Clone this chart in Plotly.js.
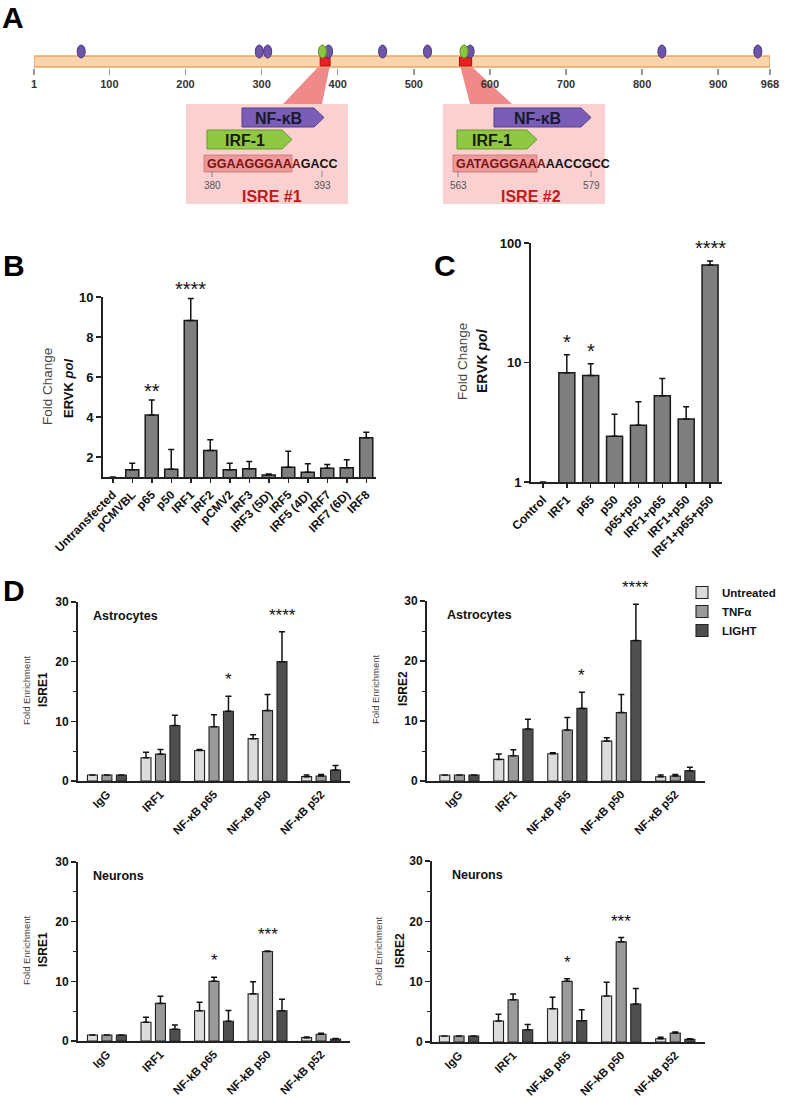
<!DOCTYPE html>
<html><head><meta charset="utf-8">
<script src="https://cdn.plot.ly/plotly-3.0.1.min.js"></script>
<style>html,body{margin:0;padding:0;background:#fff}#chart{width:790px;height:1097px}</style>
</head><body><div id="chart"></div>
<script>
// ================= DATA =================
// Panel A : ERVK genome map
const genomeTicks = [1,100,200,300,400,500,600,700,800,900,968];
const nfkbSites = [63,297,308,388,459,518,574,826,952];
const irf1Sites = [380,566];
const isreRanges = [[380,393],[563,579]];
const primerStart = [250,435,546,738];
const primerEnd = [275,410,572,712];
const isreSeqs = ['GGAAGGGAAAGACC','GATAGGGAAAAACCGCC'];
const isreNames = ['ISRE #1','ISRE #2'];

// Panel B
const bCats = ['Untransfected','pCMVBL','p65','p50','IRF1','IRF2','pCMV2','IRF3','IRF3 (5D)','IRF5','IRF5 (4D)','IRF7','IRF7 (6D)','IRF8'];
const bVals = [1.0,1.36,4.1,1.39,8.83,2.33,1.36,1.41,1.1,1.49,1.24,1.44,1.46,2.96];
const bErr  = [0,0.33,0.75,0.99,1.1,0.53,0.33,0.37,0.05,0.8,0.42,0.19,0.4,0.28];
const bSig  = ['','','**','','****','','','','','','','','',''];

// Panel C
const cCats = ['Control','IRF1','p65','p50','p65+p50','IRF1+p65','IRF1+p50','IRF1+p65+p50'];
const cVals = [1.0,8.2,7.8,2.42,2.98,5.28,3.37,65.6];
const cErr  = [0,3.4,1.95,1.27,1.72,2.08,0.9,5.2];
const cSig  = ['','*','*','','','','','****'];

// Panel D
const treatments = ['Untreated','TNFα','LIGHT'];
const dCatsAstro  = ['IgG','IRF1','NF-κB p65','NF-κB p50','NF-κB p52'];
const dCatsNeuron = ['IgG','IRF1','NF-kB p65','NF-kB p50','NF-kB p52'];

const astroIsre1Untreated = [1.0,3.9,5.1,7.1,0.73];
const astroIsre1UntreatedErr = [0,0.9,0.2,0.65,0.27];
const astroIsre1Tnf = [1.0,4.5,9.1,11.8,0.84];
const astroIsre1TnfErr = [0,0.8,2.0,2.7,0.23];
const astroIsre1Light = [1.0,9.3,11.7,20.0,1.85];
const astroIsre1LightErr = [0,1.7,2.5,5.0,0.75];

const astroIsre2Untreated = [1.0,3.6,4.55,6.65,0.72];
const astroIsre2UntreatedErr = [0,0.9,0.15,0.55,0.28];
const astroIsre2Tnf = [1.0,4.2,8.5,11.4,0.83];
const astroIsre2TnfErr = [0,1.0,2.1,3.0,0.27];
const astroIsre2Light = [1.0,8.65,12.1,23.4,1.72];
const astroIsre2LightErr = [0,1.65,2.7,6.05,0.58];

const neuronIsre1Untreated = [1.0,3.13,5.08,7.9,0.56];
const neuronIsre1UntreatedErr = [0,0.87,1.42,2.05,0.11];
const neuronIsre1Tnf = [1.0,6.3,10.0,15.0,1.12];
const neuronIsre1TnfErr = [0,1.2,0.7,0.1,0.16];
const neuronIsre1Light = [1.0,1.95,3.3,5.08,0.33];
const neuronIsre1LightErr = [0,0.75,1.8,1.92,0.07];

const neuronIsre2Untreated = [1.0,3.48,5.5,7.62,0.55];
const neuronIsre2UntreatedErr = [0,1.12,1.9,2.28,0.22];
const neuronIsre2Tnf = [1.0,7.0,10.05,16.6,1.5];
const neuronIsre2TnfErr = [0,0.95,0.45,0.7,0.16];
const neuronIsre2Light = [1.0,2.04,3.54,6.3,0.44];
const neuronIsre2LightErr = [0,0.86,1.82,2.55,0.11];

// significance: [group index, treatment index, label]
const astroSig = [[2,2,'*'],[3,2,'****']];
const neuronSig = [[2,1,'*'],[3,1,'***']];

// ================= HELPERS =================
const W=790,H=1097;
const F='Liberation Sans, Arial, sans-serif';
const X=p=>p/W, Y=p=>1-p/H;
const xd=(a,b)=>[a/W,b/W], yd=(t,b)=>[1-b/H,1-t/H];
const bf=(s,c)=>({family:F,size:s,color:c||'#111',weight:'bold'});
const baseAx = {showline:true,linecolor:'#222',linewidth:2,ticks:'outside',tickcolor:'#222',
  tickwidth:1.5,ticklen:5,showgrid:false,zeroline:false,fixedrange:true};
const upErr = e=>({type:'data',symmetric:false,array:e.map(v=>v>0?v:NaN),arrayminus:e.map(()=>0),color:'#111',thickness:1.5,width:3});

const traces=[], shapes=[], annotations=[];
function pa(x,y,text,font,extra){annotations.push(Object.assign({xref:'paper',yref:'paper',x:X(x),y:Y(y),text:text,showarrow:false,font:font,xanchor:'center',yanchor:'middle'},extra||{}));}

// ================= PANEL A =================
traces.push({type:'scatter',x:[1,968],y:[0,0],mode:'none',xaxis:'x7',yaxis:'y7',showlegend:false,hoverinfo:'skip'});
shapes.push({type:'rect',xref:'x7',yref:'y7',x0:genomeTicks[0],x1:genomeTicks[genomeTicks.length-1],y0:1,y1:12,fillcolor:'#fcd4ab',line:{color:'#eea263',width:1.5}});
isreRanges.forEach(r=>shapes.push({type:'rect',xref:'x7',yref:'y7',x0:r[0]-3,x1:r[1]-3,y0:2,y1:11,fillcolor:'#e8201e',line:{color:'#b01010',width:1}}));
nfkbSites.forEach(s=>shapes.push({type:'circle',xref:'x7',yref:'y7',x0:s-5.3,x1:s+5.3,y0:10,y1:23,fillcolor:'#6d55a8',line:{color:'#4a3680',width:1}}));
irf1Sites.forEach(s=>shapes.push({type:'circle',xref:'x7',yref:'y7',x0:s-5.3,x1:s+5.3,y0:10,y1:23,fillcolor:'#8cc63e',line:{color:'#5f8f25',width:1}}));
primerStart.forEach((s,i)=>annotations.push({xref:'x7',yref:'y7',axref:'x7',ayref:'y7',x:primerEnd[i],y:-2.5,ax:s,ay:-2.5,text:'',showarrow:true,arrowhead:2,arrowsize:0.7,arrowwidth:3.5,arrowcolor:i<2?'#6a6a6a':'#111'}));

const insetLayout=[
 {box:[186,104,348,204],wedge:[[320,65],[330,65],[322,104],[283,104]],nf:[242,324,108,127],irf:[207,292,130,149],hl:[204,292,155,172],seqX:205,ticks:[212,322],name:[272,197]},
 {box:[443,104,605,204],wedge:[[460,65],[470,65],[512,104],[470,104]],nf:[494,591,108,127],irf:[457,537,130,149],hl:[453,537,155,172],seqX:454,ticks:[458,591],name:[531,197]}
];
function pent(b,tip){const [x0,x1,y0,y1]=b;return `M${X(x0)},${Y(y0)} L${X(x1-tip)},${Y(y0)} L${X(x1)},${Y((y0+y1)/2)} L${X(x1-tip)},${Y(y1)} L${X(x0)},${Y(y1)} Z`;}
insetLayout.forEach((L,i)=>{
  shapes.push({type:'rect',xref:'paper',yref:'paper',x0:X(L.box[0]),x1:X(L.box[2]),y0:Y(L.box[3]),y1:Y(L.box[1]),fillcolor:'#fbd0d0',line:{width:0},layer:'below'});
  shapes.push({type:'path',xref:'paper',yref:'paper',path:'M'+L.wedge.map(p=>X(p[0])+','+Y(p[1])).join(' L')+' Z',fillcolor:'rgba(228,40,40,0.55)',line:{width:0},layer:'below'});
  shapes.push({type:'path',xref:'paper',yref:'paper',path:pent(L.nf,10),fillcolor:'#7a5db6',line:{color:'#55408f',width:1}});
  shapes.push({type:'path',xref:'paper',yref:'paper',path:pent(L.irf,10),fillcolor:'#8fc843',line:{color:'#679a2a',width:1}});
  shapes.push({type:'rect',xref:'paper',yref:'paper',x0:X(L.hl[0]),x1:X(L.hl[1]),y0:Y(L.hl[3]),y1:Y(L.hl[2]),fillcolor:'rgba(226,110,110,0.55)',line:{color:'rgba(200,90,90,0.6)',width:1}});
  L.ticks.forEach(t=>shapes.push({type:'line',xref:'paper',yref:'paper',x0:X(t),x1:X(t),y0:Y(171),y1:Y(177),line:{color:'#888',width:1}}));
  pa((L.nf[0]+L.nf[1]-10)/2,118,'NF-κB',bf(16,'#1b1a2a'));
  pa((L.irf[0]+L.irf[1]-10)/2,140,'IRF-1',bf(16,'#1b1a10'));
  const seq=isreSeqs[i];
  pa(L.seqX,164,'<span style="color:#7a1010">'+seq.slice(0,10)+'</span>'+seq.slice(10),bf(12.5,'#111'),{xanchor:'left'});
  pa(L.ticks[0],185,String(isreRanges[i][0]),{family:F,size:10,color:'#555'});
  pa(L.ticks[1],185,String(isreRanges[i][1]),{family:F,size:10,color:'#555'});
  pa(L.name[0],197,isreNames[i],bf(16,'#c4161c'));
});

// bars whose value sits on the axis minimum (fold change 1) are not visible in the original
const outlineW = (vals,w)=>vals.map(v=>v>1?w:0);
const barOpacity = vals=>vals.map(v=>v>1?1:0);

// ================= PANEL B =================
traces.push({type:'bar',x:bCats,y:bVals,width:0.67,xaxis:'x',yaxis:'y',showlegend:false,
  marker:{color:'#7f7f7f',opacity:barOpacity(bVals),line:{color:'#1a1a1a',width:outlineW(bVals,1.5)}},error_y:upErr(bErr),hoverinfo:'skip'});
bSig.forEach((s,i)=>{if(s)annotations.push({xref:'x',yref:'y',x:i,y:bVals[i]+bErr[i],text:s,showarrow:false,yanchor:'bottom',yshift:-4,font:{family:F,size:20,color:'#111'}});});

// ================= PANEL C =================
traces.push({type:'bar',x:cCats,y:cVals,width:0.67,xaxis:'x2',yaxis:'y2',showlegend:false,
  marker:{color:'#7f7f7f',opacity:barOpacity(cVals),line:{color:'#1a1a1a',width:outlineW(cVals,1.5)}},error_y:upErr(cErr),hoverinfo:'skip'});
cSig.forEach((s,i)=>{if(s)annotations.push({xref:'x2',yref:'y2',x:i,y:Math.log10(cVals[i]+cErr[i]),text:s,showarrow:false,yanchor:'bottom',yshift:0,font:{family:F,size:20,color:'#111'}});});

// ================= PANEL D =================
const dColors=['#dcdcdc','#9a9a9a','#4f4f4f'];
const dPanels=[
 {ax:'3',cats:dCatsAstro,vals:[astroIsre1Untreated,astroIsre1Tnf,astroIsre1Light],errs:[astroIsre1UntreatedErr,astroIsre1TnfErr,astroIsre1LightErr],sig:astroSig,label:'Astrocytes'},
 {ax:'4',cats:dCatsAstro,vals:[astroIsre2Untreated,astroIsre2Tnf,astroIsre2Light],errs:[astroIsre2UntreatedErr,astroIsre2TnfErr,astroIsre2LightErr],sig:astroSig,label:'Astrocytes'},
 {ax:'5',cats:dCatsNeuron,vals:[neuronIsre1Untreated,neuronIsre1Tnf,neuronIsre1Light],errs:[neuronIsre1UntreatedErr,neuronIsre1TnfErr,neuronIsre1LightErr],sig:neuronSig,label:'Neurons'},
 {ax:'6',cats:dCatsNeuron,vals:[neuronIsre2Untreated,neuronIsre2Tnf,neuronIsre2Light],errs:[neuronIsre2UntreatedErr,neuronIsre2TnfErr,neuronIsre2LightErr],sig:neuronSig,label:'Neurons'}
];
const BARGAP=0.19, slot=(1-BARGAP)/3;
dPanels.forEach((p,pi)=>{
  treatments.forEach((t,ti)=>{
    traces.push({type:'bar',name:t,x:p.cats,y:p.vals[ti],xaxis:'x'+p.ax,yaxis:'y'+p.ax,legendgroup:t,showlegend:pi===1,
      marker:{color:dColors[ti],line:{color:'#222',width:1.1}},error_y:upErr(p.errs[ti]),hoverinfo:'skip'});
  });
  p.sig.forEach(s=>{const [g,t,txt]=s;
    annotations.push({xref:'x'+p.ax,yref:'y'+p.ax,x:g+(t-1)*slot,y:p.vals[t][g]+p.errs[t][g],text:txt,showarrow:false,yanchor:'bottom',yshift:5,font:{family:F,size:17,color:'#111'}});});
  annotations.push({xref:'x'+p.ax+' domain',yref:'y'+p.ax,x:pi%2?0.065:0.048,y:27.6,text:p.label,showarrow:false,xanchor:'left',yanchor:'middle',font:bf(12.5,'#111')});
});

// ================= AXIS TITLES & LETTERS =================
const rot={textangle:-90};
pa(47,387,'Fold Change',{family:F,size:13.5,color:'#444'},rot);
pa(68,389,'ERVK <i>pol</i>',bf(13,'#111'),rot);
pa(462,362,'Fold Change',{family:F,size:13.5,color:'#444'},rot);
pa(482,361,'ERVK <i>pol</i>',bf(14,'#111'),rot);
[[26,43,690,'ISRE1'],[375,403,689,'ISRE2'],[26,43,950,'ISRE1'],[378,400,951,'ISRE2']].forEach(a=>{
  pa(a[0],a[2],'Fold Enrichment',{family:F,size:9.5,color:'#444'},rot);
  pa(a[1],a[2],a[3],bf(12,'#111'),rot);
});
pa(13,17,'A',bf(30,'#000'));
pa(14,265,'B',bf(30,'#000'));
pa(445,265,'C',bf(30,'#000'));
pa(14,590,'D',bf(30,'#000'));

// ================= LAYOUT =================
const dY = Object.assign({},baseAx,{range:[0,30],tickvals:[0,10,20,30],tickfont:bf(12),minor:{tickvals:[5,15,25],ticks:'outside',ticklen:3,tickcolor:'#222',tickwidth:1}});
const dX = Object.assign({},baseAx,{type:'category',ticks:'',tickangle:-45,tickfont:bf(11.5)});
const layout={
  width:W,height:H,margin:{l:0,r:0,t:0,b:0},paper_bgcolor:'#fff',plot_bgcolor:'rgba(0,0,0,0)',
  font:{family:F,color:'#111'},barmode:'group',bargap:BARGAP,bargroupgap:0.31,
  showlegend:true,
  legend:{x:X(682),y:Y(578),xanchor:'left',yanchor:'top',font:bf(11.5),bgcolor:'rgba(0,0,0,0)',itemwidth:30,tracegroupgap:0},
  xaxis:Object.assign({},baseAx,{domain:xd(103,376),anchor:'y',type:'category',range:[-0.5,13.5],tickangle:-45,ticklen:4,tickfont:bf(12)}),
  yaxis:Object.assign({},baseAx,{domain:yd(297,477),anchor:'x',range:[1,10],tickvals:[2,4,6,8,10],tickfont:bf(13)}),
  xaxis2:Object.assign({},baseAx,{domain:xd(531,722),anchor:'y2',type:'category',range:[-0.5,7.5],tickangle:-45,ticklen:4,tickfont:bf(12)}),
  yaxis2:Object.assign({},baseAx,{domain:yd(243,482),anchor:'x2',type:'log',range:[0,2],tickvals:[1,10,100],ticktext:['1','10','100'],tickfont:bf(13)}),
  xaxis3:Object.assign({},dX,{domain:xd(78,350),anchor:'y3',range:[-0.54,4.54]}),
  yaxis3:Object.assign({},dY,{domain:yd(602,781),anchor:'x3'}),
  xaxis4:Object.assign({},dX,{domain:xd(427,705),anchor:'y4',range:[-0.6,4.55]}),
  yaxis4:Object.assign({},dY,{domain:yd(601,781),anchor:'x4'}),
  xaxis5:Object.assign({},dX,{domain:xd(78,350),anchor:'y5',range:[-0.54,4.54]}),
  yaxis5:Object.assign({},dY,{domain:yd(862,1041),anchor:'x5'}),
  xaxis6:Object.assign({},dX,{domain:xd(432,705),anchor:'y6',range:[-0.5,4.55]}),
  yaxis6:Object.assign({},dY,{domain:yd(861,1042),anchor:'x6'}),
  xaxis7:{domain:xd(34,770),anchor:'y7',range:[1,968],tickvals:genomeTicks,ticks:'outside',ticklen:6,tickwidth:1.5,tickcolor:'#999',
    showline:false,showgrid:false,zeroline:false,tickfont:bf(11,'#333'),fixedrange:true},
  yaxis7:{domain:yd(40,68),anchor:'x7',range:[0,28],visible:false,fixedrange:true},
  shapes:shapes,annotations:annotations
};
Plotly.newPlot('chart',traces,layout,{displayModeBar:false,staticPlot:true});
</script></body></html>
